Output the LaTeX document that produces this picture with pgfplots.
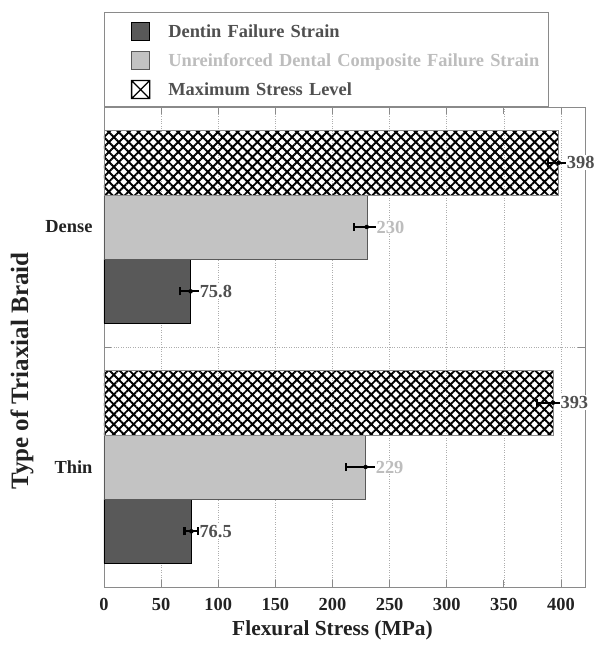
\documentclass[border=0pt]{standalone}
\usepackage{pgfplots}
\pgfplotsset{compat=1.18}
\usetikzlibrary{patterns.meta}
\usepackage{fontspec}
\setmainfont{Liberation Serif}
\definecolor{darkbar}{HTML}{595959}
\definecolor{lightbar}{HTML}{C3C3C3}
\definecolor{axisgray}{HTML}{8A8A8A}
\definecolor{lbl}{HTML}{505050}
\definecolor{lbllight}{HTML}{BDBDBD}
\definecolor{txt}{HTML}{222222}
\begin{document}
\begin{tikzpicture}
\begin{axis}[
  scale only axis, width=481pt, height=480pt,
  clip=false,
  xmin=0, xmax=421, ymin=-0.5, ymax=1.5,
  /pgf/number format/assume math mode=true,
  xtick={0,50,...,400},
  ytick={0.5}, yticklabels={},
  extra y ticks={0,1}, extra y tick labels={Thin,Dense},
  extra y tick style={major tick length=0pt, grid=none, yticklabel style={xshift=-8pt}},
  xmajorgrids, ymajorgrids,
  grid style={axisgray!70, dotted, line width=0.7pt},
  axis line style={axisgray, line width=0.8pt},
  major tick length=7pt,
  xtick style={axisgray, line width=0.8pt},
  ytick style={axisgray, line width=0.8pt},
  tick label style={font=\fontsize{18.4}{22}\selectfont\bfseries, text=txt},
  xticklabel style={yshift=-8pt},
  label style={text=txt},
  xlabel={Flexural Stress (MPa)},
  ylabel={Type of Triaxial Braid},
  xlabel style={font=\fontsize{21.4}{25}\selectfont\bfseries, at={(axis description cs:0.475,-0.0896)}, anchor=center},
  ylabel style={font=\fontsize{25}{29}\selectfont\bfseries, at={(axis description cs:-0.1705,0.45)}, anchor=center},
  legend style={at={(axis description cs:0,1)}, anchor=south west,
    draw=axisgray, line width=0.8pt, fill=white,
    inner xsep=0pt, inner ysep=3.5pt, row sep=0pt, column sep=18pt,
    font=\fontsize{18.4}{22}\selectfont\bfseries,
    nodes={inner xsep=0pt, inner ysep=5.5pt, text height=16pt, text depth=2pt},
    cells={anchor=west}},
  legend image code/.code={\path (0pt,0pt); \draw[#1, line width=0.6pt] (27pt,-10pt) rectangle (45pt,8pt);},
]
\addplot[xbar, bar width=0.268, bar shift=-0.268, fill=darkbar, draw=black, line width=0.5pt]
  coordinates {(76.5,0) (75.8,1)};
\addlegendentry[text width=380pt, text=lbl]{Dentin Failure Strain}
\addplot[xbar, bar width=0.268, bar shift=0, fill=lightbar, draw=darkbar, line width=0.5pt]
  coordinates {(229,0) (230,1)};
\addlegendentry[text width=380pt, text=lbllight]{Unreinforced Dental Composite Failure Strain}
\addplot[xbar, bar width=0.268, bar shift=0.268, draw=axisgray, line width=0.5pt,
  pattern={Hatch[angle=45, distance=7pt, line width=1.9pt]}, pattern color=black,
  legend image code/.code={\path (0pt,0pt); \draw[black, line width=1.3pt, fill=white] (27pt,-10pt) rectangle (45pt,8pt) (27pt,-10pt) -- (45pt,8pt) (27pt,8pt) -- (45pt,-10pt);}]
  coordinates {(393,0) (398,1)};
\addlegendentry[text width=380pt, text=lbl]{Maximum Stress Level}
% error bars
\addplot[draw=black, mark=none, forget plot, only marks,
  error bars/.cd, x dir=both, x explicit, error mark=|,
  error bar style={draw=black, line width=2.2pt}, error mark options={draw=black, mark size=4pt, line width=2.2pt}]
  coordinates {(76.5,-0.268) +- (6,0) (75.8,0.732) +- (9,0)
               (229,0) +- (17,0) (230,1) +- (11,0)
               (393,0.268) +- (14,0) (398,1.268) +- (9.6,0)};
% value labels
\addplot[draw=none, mark=none, nodes near coords, point meta=explicit symbolic, forget plot,
  every node near coord/.style={anchor=west, font=\fontsize{18.4}{22}\selectfont\bfseries, text=lbl, fill=white, inner xsep=0.5pt, inner ysep=1pt}]
  coordinates {(83,-0.268) [76.5] (83.2,0.732) [75.8] (399,0.268) [393] (404.5,1.268) [398]};
\addplot[draw=none, mark=none, nodes near coords, point meta=explicit symbolic, forget plot,
  every node near coord/.style={anchor=west, font=\fontsize{18.4}{22}\selectfont\bfseries, text=lbllight, fill=white, inner xsep=0.5pt, inner ysep=1pt}]
  coordinates {(237.3,0) [229] (238,1) [230]};
\end{axis}
\pgfresetboundingbox
\path (current axis.south west) ++(-104pt,-60pt) rectangle ++(597pt,647pt);
\end{tikzpicture}
\end{document}
